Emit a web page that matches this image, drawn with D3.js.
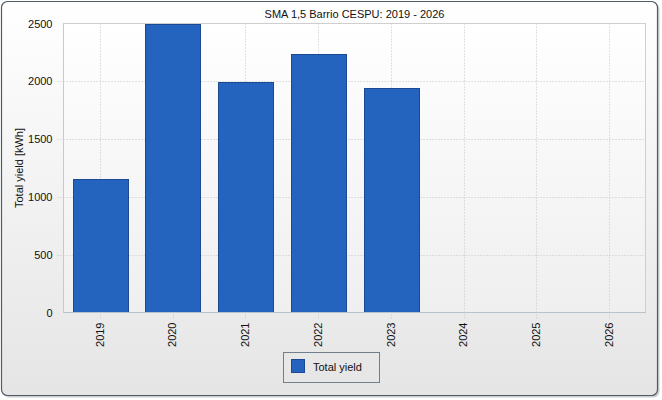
<!DOCTYPE html>
<html>
<head>
<meta charset="utf-8">
<script src="https://cdn.jsdelivr.net/npm/d3@7"></script>
<style>
  html, body { margin: 0; padding: 0; background: #ffffff; }
  svg { display: block; font-family: "Liberation Sans", Arial, sans-serif; }
</style>
</head>
<body>
<div id="chart"></div>
<script>
// chart data
const years = ["2019", "2020", "2021", "2022", "2023", "2024", "2025", "2026"];
const totalYield = [1155, 2498, 1990, 2240, 1944, null, null, null];
const yTicks = [0, 500, 1000, 1500, 2000, 2500];
const chartTitle = "SMA 1,5 Barrio CESPU: 2019 - 2026";
const yTitle = "Total yield [kWh]";
const seriesName = "Total yield";

function draw() {
    let W = 662, H = 400;
    let left = 63.5, right = 645.5, top = 23.5, bottom = 312.5;
    let fs = "11px";

    let svg = d3.select("#chart").append("svg")
        .attr("width", W)
        .attr("height", H);

    let defs = svg.append("defs");
    let bgGrad = defs.append("linearGradient").attr("id", "bg")
        .attr("x1", 0).attr("y1", 0).attr("x2", 0).attr("y2", 1);
    bgGrad.append("stop").attr("offset", "0%").attr("stop-color", "#ffffff");
    bgGrad.append("stop").attr("offset", "100%").attr("stop-color", "#e5e5e5");

    let plotGrad = defs.append("linearGradient").attr("id", "plotbg")
        .attr("x1", 0).attr("y1", 0).attr("x2", 0).attr("y2", 1);
    plotGrad.append("stop").attr("offset", "0%").attr("stop-color", "#ffffff");
    plotGrad.append("stop").attr("offset", "100%").attr("stop-color", "#efefef");

    // shadow + frame
    svg.append("rect")
        .attr("x", 3.5).attr("y", 3.5)
        .attr("width", W - 6).attr("height", H - 6)
        .attr("rx", 6)
        .style("fill", "#cccccc");
    svg.append("rect")
        .attr("x", 1.5).attr("y", 1.5)
        .attr("width", W - 6).attr("height", H - 6)
        .attr("rx", 6)
        .style("fill", "url(#bg)")
        .style("stroke", "#4f5b66")
        .style("stroke-width", 1.2);

    // scales
    let x = d3.scaleBand()
        .domain(years)
        .range([left, right])
        .paddingInner(0.25)
        .paddingOuter(0.125);
    let xc = d => x(d) + x.bandwidth() / 2;

    let y = d3.scaleLinear()
        .domain([0, 2500])
        .range([bottom, top]);

    // plot background
    svg.append("rect")
        .attr("x", left).attr("y", top)
        .attr("width", right - left).attr("height", bottom - top)
        .style("fill", "url(#plotbg)")
        .style("stroke", "#cfcfcf");

    // grid
    svg.append("g")
        .selectAll("line")
        .data(yTicks.filter(t => t > 0 && t < 2500))
        .enter().append("line")
        .attr("x1", left - 6).attr("x2", right)
        .attr("y1", d => Math.round(y(d)) + 0.5)
        .attr("y2", d => Math.round(y(d)) + 0.5)
        .style("stroke", "#c4c4c4")
        .style("stroke-dasharray", "1,2");

    svg.append("g")
        .selectAll("line")
        .data(years)
        .enter().append("line")
        .attr("x1", d => Math.round(xc(d)) + 0.5)
        .attr("x2", d => Math.round(xc(d)) + 0.5)
        .attr("y1", top).attr("y2", bottom + 6)
        .style("stroke", "#c4c4c4")
        .style("stroke-dasharray", "1,2");

    // bars
    let barData = years.map((d, i) => ({ year: d, value: totalYield[i] }))
        .filter(d => d.value != null);
    svg.append("g")
        .selectAll("rect")
        .data(barData)
        .enter().append("rect")
        .attr("x", d => Math.round(x(d.year)) + 0.5)
        .attr("y", d => Math.round(y(d.value)) + 0.5)
        .attr("width", Math.round(x.bandwidth()))
        .attr("height", d => Math.round(y(0)) - Math.round(y(d.value)) - 1)
        .style("fill", "#2463be")
        .style("stroke", "#1b4a92");

    // axis lines
    svg.append("line")
        .attr("x1", left).attr("x2", right)
        .attr("y1", bottom).attr("y2", bottom)
        .style("stroke", "#b9c1ca");
    svg.append("line")
        .attr("x1", left).attr("x2", left)
        .attr("y1", top).attr("y2", bottom)
        .style("stroke", "#c9c9c9");

    // y tick labels
    let yAxis = svg.append("g")
        .attr("transform", "translate(" + (left - 6) + ",0)")
        .call(d3.axisLeft(y).tickValues(yTicks).tickFormat(d3.format("d"))
            .tickSize(0).tickPadding(5));
    yAxis.select(".domain").remove();
    yAxis.selectAll("text")
        .style("font-size", fs)
        .style("font-family", "Liberation Sans, Arial, sans-serif")
        .style("fill", "#111");

    // x tick labels
    let xAxis = svg.append("g")
        .attr("transform", "translate(0," + bottom + ")")
        .call(d3.axisBottom(x).tickSize(0));
    xAxis.select(".domain").remove();
    xAxis.selectAll("text")
        .attr("transform", "rotate(-90)")
        .attr("x", -10)
        .attr("y", 0)
        .attr("dy", "0.35em")
        .style("text-anchor", "end")
        .style("font-size", fs)
        .style("font-family", "Liberation Sans, Arial, sans-serif")
        .style("fill", "#111");

    // title
    svg.append("text")
        .attr("x", (left + right) / 2)
        .attr("y", 18)
        .style("text-anchor", "middle")
        .style("font-size", fs)
        .style("fill", "#111")
        .text(chartTitle);

    // y title
    svg.append("text")
        .attr("transform", "translate(23," + ((top + bottom) / 2) + ") rotate(-90)")
        .style("text-anchor", "middle")
        .style("font-size", fs)
        .style("fill", "#111")
        .text(yTitle);

    // legend
    let lg = svg.append("g");
    lg.append("rect")
        .attr("x", 283.5).attr("y", 352.5)
        .attr("width", 96).attr("height", 30)
        .style("fill", "none")
        .style("stroke", "#6f7f8c");
    lg.append("rect")
        .attr("x", 291.5).attr("y", 359.5)
        .attr("width", 13).attr("height", 13)
        .style("fill", "#2463be")
        .style("stroke", "#1b4a92");
    lg.append("text")
        .attr("x", 313)
        .attr("y", 370.5)
        .style("font-size", fs)
        .style("fill", "#111")
        .text(seriesName);
}

window.onload = () => {
    draw();
};
</script>
</body>
</html>
